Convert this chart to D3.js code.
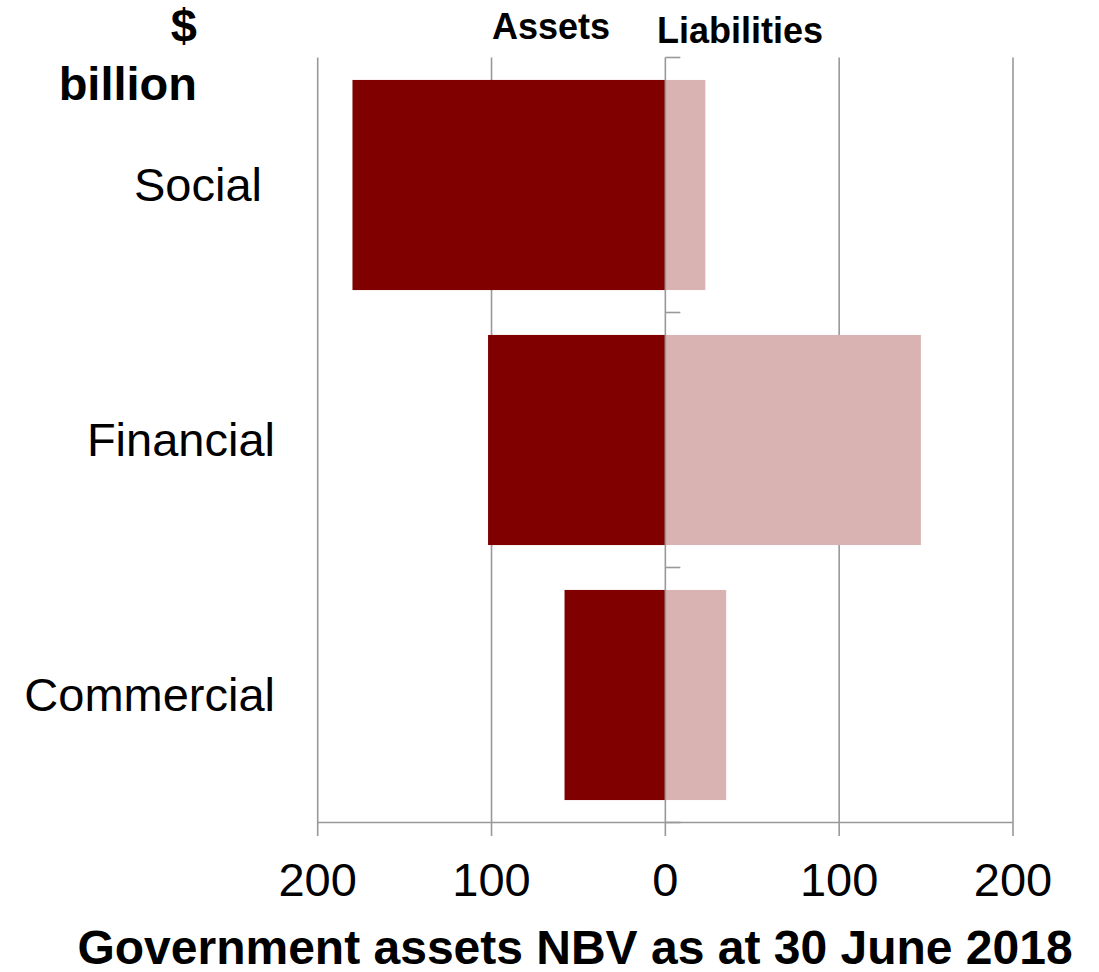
<!DOCTYPE html>
<html>
<head>
<meta charset="utf-8">
<script src="https://cdn.jsdelivr.net/npm/d3@7"></script>
<style>
  html, body { margin: 0; padding: 0; background: #fff; }
  svg { display: block; font-family: "Liberation Sans", Arial, sans-serif; }
</style>
</head>
<body>
<svg id="chart" width="1099" height="972"></svg>
<script>
// ---- data ----
const categories = ["Social", "Financial", "Commercial"];
const assets = [180, 102, 58];
const liabilities = [23, 147, 35];
const tickValues = [-200, -100, 0, 100, 200];
const tickLabels = ["200", "100", "0", "100", "200"];
const title = "Government assets NBV as at 30 June 2018";

// ---- layout ----
const svg = d3.select("#chart");
const plotLeft = 317.7, plotRight = 1013, plotTop = 57.5, plotBottom = 822.5;
const gridColor = "#999999";
const assetColor = "#800000";
const liabColor = "#D9B2B2";

const x = d3.scaleLinear().domain([-200, 200]).range([plotLeft, plotRight]);
const y = d3.scaleBand().domain(categories).range([plotTop, plotBottom])
  .paddingInner(0.176).paddingOuter(0.088);
const bandStep = y.step();

// gridlines (non-zero)
svg.append("g").selectAll("line")
  .data(tickValues.filter(v => v !== 0))
  .join("line")
  .attr("x1", d => x(d)).attr("x2", d => x(d))
  .attr("y1", plotTop).attr("y2", plotBottom + 13.5)
  .attr("stroke", gridColor).attr("stroke-width", 1.6);

// bottom axis line
svg.append("line")
  .attr("x1", x(-200)).attr("x2", x(200))
  .attr("y1", plotBottom).attr("y2", plotBottom)
  .attr("stroke", gridColor).attr("stroke-width", 1.6);

const rows = categories.map((c, i) => ({ c, a: assets[i], l: liabilities[i] }));

// asset bars (negative side)
svg.append("g").selectAll("rect")
  .data(rows).join("rect")
  .attr("x", d => x(-d.a)).attr("width", d => x(0) - x(-d.a))
  .attr("y", d => y(d.c)).attr("height", y.bandwidth())
  .attr("fill", assetColor);

// liability bars
svg.append("g").selectAll("rect")
  .data(rows).join("rect")
  .attr("x", x(0)).attr("width", d => x(d.l) - x(0))
  .attr("y", d => y(d.c)).attr("height", y.bandwidth())
  .attr("fill", liabColor);

// zero line with category ticks
svg.append("line")
  .attr("x1", x(0)).attr("x2", x(0))
  .attr("y1", plotTop).attr("y2", plotBottom + 13.5)
  .attr("stroke", gridColor).attr("stroke-width", 1.6);
const boundaries = d3.range(categories.length + 1).map(i => plotTop + i * bandStep);
svg.append("g").selectAll("line")
  .data(boundaries).join("line")
  .attr("x1", x(0)).attr("x2", x(0) + 15)
  .attr("y1", d => d).attr("y2", d => d)
  .attr("stroke", gridColor).attr("stroke-width", 1.6);

// category labels
svg.append("g").selectAll("text")
  .data(categories).join("text")
  .attr("x", (d, i) => i === 0 ? 262 : 275)
  .attr("y", d => y(d) + y.bandwidth() / 2 + 16)
  .attr("text-anchor", "end")
  .attr("font-size", 47)
  .attr("fill", "#000")
  .text(d => d);

// tick labels
svg.append("g").selectAll("text")
  .data(tickValues).join("text")
  .attr("x", d => x(d)).attr("y", 896)
  .attr("text-anchor", "middle")
  .attr("font-size", 47)
  .attr("fill", "#000")
  .text((d, i) => tickLabels[i]);

// units
svg.append("text").attr("x", 197).attr("y", 42)
  .attr("text-anchor", "end").attr("font-size", 47).attr("font-weight", "bold")
  .text("$");
svg.append("text").attr("x", 197).attr("y", 100)
  .attr("text-anchor", "end").attr("font-size", 47).attr("font-weight", "bold")
  .text("billion");

// series headers
svg.append("text").attr("x", 610).attr("y", 39)
  .attr("text-anchor", "end").attr("font-size", 36).attr("font-weight", "bold")
  .text("Assets");
svg.append("text").attr("x", 657).attr("y", 43)
  .attr("text-anchor", "start").attr("font-size", 36).attr("font-weight", "bold")
  .text("Liabilities");

// title
svg.append("text").attr("x", 575).attr("y", 964)
  .attr("text-anchor", "middle").attr("font-size", 48).attr("font-weight", "bold")
  .text(title);
</script>
</body>
</html>
